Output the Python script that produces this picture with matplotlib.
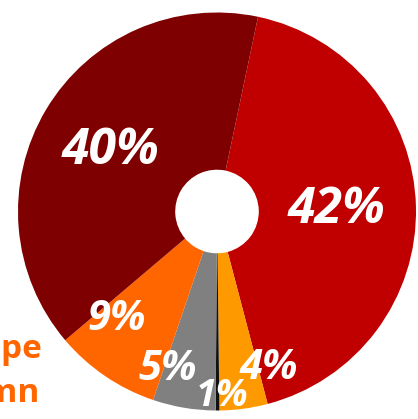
import numpy as np
import matplotlib

matplotlib.use("Agg")
import matplotlib.pyplot as plt

# slice shares (%), clockwise from the top-right boundary
shares = [42.6, 3.9, 0.3, 5.1, 8.6, 39.5]
labels = ["42%", "4%", "1%", "5%", "9%", "40%"]
colors = ["#C00000", "#FF9900", "#111111", "#808080", "#FF6600", "#7F0000"]

# cut-off side captions on the left edge
side_texts = ["Europe", "Autumn"]

# label placement: radial fraction, angular nudge (deg, clockwise) and size
label_r = [0.60, 0.83, 0.93, 0.83, 0.74, 0.615]
label_nudge = [0.9, -10.5, -1.5, 7.7, 8.8, -1.0]
label_size = [36, 30, 27, 30, 30, 36]

W, H = 418, 419
CENTER = (217, H - 211.5)
RADIUS = 199
FONT = ["Open Sans", "DejaVu Sans"]

fig = plt.figure(figsize=(W / 100, H / 100), dpi=100)
ax = fig.add_axes([0, 0, 1, 1])

wedges, _ = ax.pie(shares, colors=colors, startangle=90 - 11.9, counterclock=False,
                   center=CENTER, radius=RADIUS,
                   wedgeprops=dict(width=RADIUS * 0.79, linewidth=0))

for w, lab, r, nudge, size in zip(wedges, labels, label_r, label_nudge, label_size):
    mid = np.deg2rad((w.theta1 + w.theta2) / 2 - nudge)
    x = CENTER[0] + r * RADIUS * np.cos(mid)
    y = CENTER[1] + r * RADIUS * np.sin(mid)
    ax.text(x, y, lab, ha="center", va="center", color="white", fontsize=size,
            fontweight="bold", fontstyle="italic", family=FONT)

ax.text(42, H - 358, side_texts[0], ha="right", va="baseline", color="#FF6600",
        fontsize=24, fontweight="bold", family=FONT)
ax.text(39, H - 402, side_texts[1], ha="right", va="baseline", color="#FF6600",
        fontsize=24, fontweight="bold", family=FONT)

ax.set_xlim(0, W)
ax.set_ylim(0, H)
ax.set_aspect("equal")
ax.axis("off")

fig.savefig("out.png", dpi=100)
